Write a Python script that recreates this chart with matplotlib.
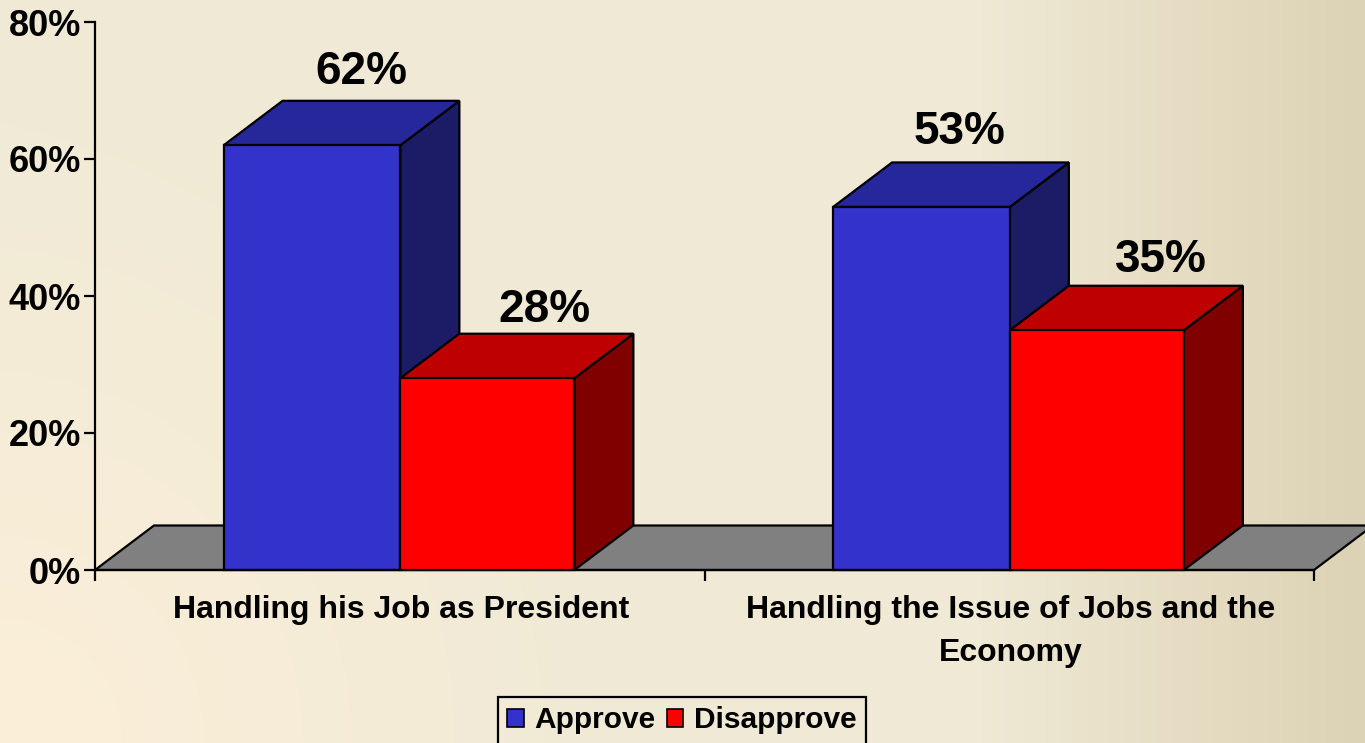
import numpy as np
import matplotlib
matplotlib.use("Agg")
import matplotlib.pyplot as plt
from matplotlib.colors import to_rgb
from matplotlib.patches import Polygon, Rectangle

categories = ["Handling his Job as President", "Handling the Issue of Jobs and the\nEconomy"]
approve = [62, 53]
disapprove = [28, 35]
series_names = ["Approve", "Disapprove"]
yticks = [0, 20, 40, 60, 80]

# label offsets from the bar's top centre, in pixels (layout only)
approve_offset = [(20, 7), (9, 8)]
disapprove_offset = [(28, 2), (35, 4)]

W, H = 1365, 743
plt.rcParams["font.family"] = ["Liberation Sans", "DejaVu Sans"]
plt.rcParams["font.weight"] = "bold"
fig = plt.figure(figsize=(W / 100, H / 100), dpi=100)

# background gradient
bg = fig.add_axes([0, 0, 1, 1], zorder=0)
bg.axis("off")
xx, yy = np.meshgrid(np.linspace(0, 1, 683), np.linspace(0, 1, 372))
stops_x = [0, 0.72, 0.86, 1.0]
base_cols = np.array([to_rgb(c) for c in ["#F0EAD6", "#EFE9D5", "#E6DDC4", "#DCD3B6"]])
img = np.dstack([np.interp(xx, stops_x, base_cols[:, i]) for i in range(3)])
dist = np.hypot(xx * W, (1 - yy) * H)   # distance from bottom-left corner
peach = np.clip(1 - dist / 620, 0, 1)[..., None]
img = img * (1 - peach) + np.array(to_rgb("#FCEFD9")) * peach
bg.imshow(img, extent=[0, 1, 0, 1], origin="upper", aspect="auto")

# axes: pixel box 95..1314 x 22..570
ax = fig.add_axes([95 / W, 1 - 570 / H, (1314 - 95) / W, (570 - 22) / H], zorder=1)
ax.patch.set_alpha(0)
ax.set_xlim(0, 2)
ax.set_ylim(0, 80)
dx = 59 / 609.5          # 3D depth in category units
dy = 44.5 / 6.85         # 3D depth in percent units
bw_a, bw_d = 0.2900, 0.2855
lw = 1.6
xshift = 0.001

# floor
ax.add_patch(Polygon([(0, 0), (2, 0), (2 + dx, dy), (dx, dy)], closed=True, fc="#808080",
                     ec="black", lw=lw, clip_on=False, zorder=1))


def bar3d(x0, w, h, front, top, side, z):
    ax.add_patch(Polygon([(x0 + w, 0), (x0 + w + dx, dy), (x0 + w + dx, h + dy), (x0 + w, h)],
                         closed=True, fc=side, ec="black", lw=lw, clip_on=False, zorder=z))
    ax.add_patch(Polygon([(x0, h), (x0 + dx, h + dy), (x0 + w + dx, h + dy), (x0 + w, h)],
                         closed=True, fc=top, ec="black", lw=lw, clip_on=False, zorder=z))
    ax.add_patch(Rectangle((x0, 0), w, h, fc=front, ec="black", lw=lw, clip_on=False, zorder=z + 0.1))


label_fs = 33
for i in range(2):
    c = i + 0.5 + xshift
    bar3d(c - bw_a, bw_a, approve[i], "#3333CC", "#27279C", "#1B1B66", 2)
    bar3d(c, bw_d, disapprove[i], "#FF0000", "#BF0000", "#800000", 3)
    ax.annotate(f"{approve[i]}%", (c - bw_a / 2 + dx / 2, approve[i] + dy), xytext=approve_offset[i],
                textcoords="offset pixels", ha="center", va="bottom", fontsize=label_fs, zorder=6,
                fontweight="bold")
    ax.annotate(f"{disapprove[i]}%", (c + bw_d / 2 + dx / 2, disapprove[i] + dy), xytext=disapprove_offset[i],
                textcoords="offset pixels", ha="center", va="bottom", fontsize=label_fs, zorder=6,
                fontweight="bold")

for s in ["top", "right"]:
    ax.spines[s].set_visible(False)
for s in ["left", "bottom"]:
    ax.spines[s].set_linewidth(1.6)
ax.set_yticks(yticks)
ax.set_yticklabels([f"{v}%" for v in yticks], fontsize=26, fontweight="bold")
ax.set_xticks([0, 1, 2])
ax.set_xticklabels([])
ax.tick_params(axis="both", length=8, width=1.6, color="black")
ax.tick_params(axis="y", pad=2)
for i, lab in enumerate(categories):
    ax.annotate(lab, (i + 0.5 + 0.002, 0), xytext=(0, -25), textcoords="offset pixels", ha="center", va="top",
                fontsize=23, fontweight="bold", linespacing=1.56)

handles = [Rectangle((0, 0), 1, 1, fc="#3333CC", ec="black", lw=1.2),
           Rectangle((0, 0), 1, 1, fc="#FF0000", ec="black", lw=1.2)]
leg = fig.legend(handles, series_names, loc="center", bbox_to_anchor=(682 / W, 1 - 720.5 / H),
                 ncol=2, fontsize=21.5, frameon=True, fancybox=False, facecolor="none", edgecolor="black",
                 handlelength=0.54, handleheight=0.54, handletextpad=0.37, columnspacing=0.37,
                 borderpad=0.33, borderaxespad=0)
leg.get_frame().set_linewidth(1.6)
leg.get_frame().set_alpha(None)

fig.savefig("out.png", dpi=100)
